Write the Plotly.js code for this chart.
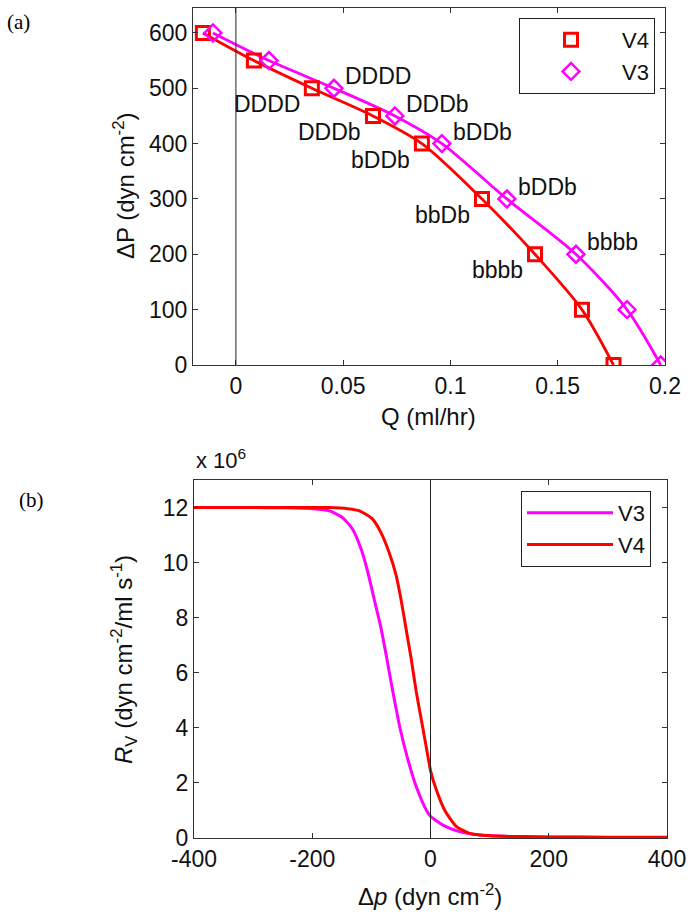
<!DOCTYPE html>
<html><head><meta charset="utf-8">
<script src="https://cdn.plot.ly/plotly-3.0.1.min.js"></script>
<style>html,body{margin:0;padding:0;background:#fff}#chart{width:694px;height:918px}</style>
</head><body><div id="chart"></div>
<script>
// ---- Panel (a): pressure-flow data ----
const qV4 = [-0.0154, 0.0084, 0.0354, 0.0639, 0.0867, 0.1147, 0.1394, 0.1613, 0.1760];
const pV4 = [600, 550, 500, 450, 400, 300, 200, 100, 0];
const qV3 = [-0.0107, 0.0154, 0.0457, 0.0741, 0.0960, 0.1263, 0.1585, 0.1823, 0.1980];
const pV3 = [600, 550, 500, 450, 400, 300, 200, 100, 0];
const labelP = [500, 450, 400, 300, 200];
const labelsV4 = ['DDDD', 'DDDb', 'bDDb', 'bbDb', 'bbbb'];
const labelsV3 = ['DDDD', 'DDDb', 'bDDb', 'bDDb', 'bbbb'];
const xTicksA = [0, 0.05, 0.1, 0.15, 0.2];
const xTickTextA = ['0', '0.05', '0.1', '0.15', '0.2'];
const yTicksA = [0, 100, 200, 300, 400, 500, 600];

// ---- Panel (b): resistance vs pressure (x 1e6) ----
const dpV3 = [-400, -300, -250, -200, -171, -149, -132, -117.5, -106, -95, -84, -75, -64, -52, -38, -24, -7, 0, 21, 49, 83, 117, 150, 200, 300, 400];
const rV3  = [12.0, 12.0, 11.99, 11.96, 11.88, 11.64, 11.22, 10.5, 9.65, 8.65, 7.65, 6.65, 5.35, 4.03, 2.83, 1.86, 1.01, 0.79, 0.47, 0.23, 0.11, 0.07, 0.05, 0.03, 0.02, 0.02];
const dpV4 = [-400, -300, -200, -171, -140, -120, -98, -84, -70, -58, -50, -41, -33, -24, -13, -3, 0, 10, 24, 44, 66, 100, 150, 200, 300, 400];
const rV4  = [12.0, 12.0, 12.0, 12.0, 11.96, 11.88, 11.58, 11.1, 10.37, 9.53, 8.68, 7.55, 6.55, 5.3, 4.0, 2.8, 2.45, 1.74, 1.01, 0.41, 0.17, 0.08, 0.05, 0.04, 0.03, 0.03];
const xTicksB = [-400, -200, 0, 200, 400];
const xTickTextB = ['-400', '-200', '0', '200', '400'];
const yTicksB = [0, 2, 4, 6, 8, 10, 12];

const RED = '#ff0000', MAG = '#ff00ff';
const FONT = 'Arial, "Liberation Sans", sans-serif';
const SERIF = '"Times New Roman", "Liberation Serif", serif';
const W = 694, H = 918;
const px = v => v / W, py = v => 1 - v / H;

const traces = [
  {x: qV4, y: pV4, xaxis: 'x', yaxis: 'y', mode: 'lines', line: {color: RED, width: 2.8, shape: 'spline', smoothing: 0.8}, showlegend: false, hoverinfo: 'skip'},
  {x: qV3, y: pV3, xaxis: 'x', yaxis: 'y', mode: 'lines', line: {color: MAG, width: 2.8, shape: 'spline', smoothing: 0.8}, showlegend: false, hoverinfo: 'skip'},
  {x: qV4, y: pV4, xaxis: 'x', yaxis: 'y', mode: 'markers', name: 'V4', legend: 'legend',
   marker: {symbol: 'square-open', size: 13, color: RED, line: {color: RED, width: 3}}},
  {x: qV3, y: pV3, xaxis: 'x', yaxis: 'y', mode: 'markers', name: 'V3', legend: 'legend',
   marker: {symbol: 'diamond-open', size: 13, color: MAG, line: {color: MAG, width: 2.5}}},
  {x: dpV3, y: rV3, xaxis: 'x2', yaxis: 'y2', mode: 'lines', name: 'V3', legend: 'legend2',
   line: {color: MAG, width: 3, shape: 'spline', smoothing: 0.6}},
  {x: dpV4, y: rV4, xaxis: 'x2', yaxis: 'y2', mode: 'lines', name: 'V4', legend: 'legend2',
   line: {color: RED, width: 3, shape: 'spline', smoothing: 0.6}}
];

const axBase = {
  showline: true, linecolor: '#333', linewidth: 1, mirror: 'ticks', ticks: 'inside', ticklen: 5,
  tickcolor: '#333', tickwidth: 1, showgrid: false, zeroline: false,
  tickfont: {family: FONT, size: 23, color: '#111'}
};

const annotations = [];
labelP.forEach((p, i) => {
  const k4 = pV4.indexOf(p), k3 = pV3.indexOf(p);
  annotations.push({x: qV4[k4], y: p, xref: 'x', yref: 'y', text: labelsV4[i], showarrow: false,
    xanchor: 'right', yanchor: 'middle', xshift: -10, yshift: -16, font: {family: FONT, size: 23, color: '#111'}});
  annotations.push({x: qV3[k3], y: p, xref: 'x', yref: 'y', text: labelsV3[i], showarrow: false,
    xanchor: 'left', yanchor: 'middle', xshift: 9, yshift: 12, font: {family: FONT, size: 23, color: '#111'}});
});
const t = (text, x, y, opts) => Object.assign({text, x: px(x), y: py(y), xref: 'paper', yref: 'paper', showarrow: false,
  xanchor: 'center', yanchor: 'middle', font: {family: FONT, size: 24, color: '#111'}}, opts || {});
annotations.push(t('Q (ml/hr)', 428, 416));
annotations.push(t('ΔP (dyn cm<sup>-2</sup>)', 124, 186, {textangle: -90}));
annotations.push(t('Δ<i>p</i> (dyn cm<sup>-2</sup>)', 430, 895));
annotations.push(t('<i>R</i><sub>V</sub> (dyn cm<sup>-2</sup>/ml s<sup>-1</sup>)', 124, 660, {textangle: -90}));
annotations.push(t('x 10<sup>6</sup>', 194, 459, {xanchor: 'left', font: {family: FONT, size: 22, color: '#111'}}));
annotations.push(t('(a)', 5, 22, {xanchor: 'left', font: {family: SERIF, size: 21, color: '#000'}}));
annotations.push(t('(b)', 17, 500, {xanchor: 'left', font: {family: SERIF, size: 21, color: '#000'}}));

const legBase = {xanchor: 'left', yanchor: 'top', bgcolor: '#fff', bordercolor: '#222', borderwidth: 1,
  font: {family: FONT, size: 22, color: '#111'}, traceorder: 'normal', tracegroupgap: 0};

const layout = {
  width: W, height: H, margin: {l: 0, r: 0, t: 0, b: 0}, paper_bgcolor: '#fff', plot_bgcolor: '#fff',
  font: {family: FONT, size: 20, color: '#111'},
  xaxis: Object.assign({}, axBase, {domain: [px(193), px(665)], range: [-0.02, 0.2], tickvals: xTicksA, ticktext: xTickTextA, anchor: 'y'}),
  yaxis: Object.assign({}, axBase, {domain: [py(365), py(8)], range: [0, 645], tickvals: yTicksA, anchor: 'x'}),
  xaxis2: Object.assign({}, axBase, {domain: [px(194), px(667)], range: [-400, 400], tickvals: xTicksB, ticktext: xTickTextB, anchor: 'y2'}),
  yaxis2: Object.assign({}, axBase, {domain: [py(838), py(480)], range: [0, 13], tickvals: yTicksB, anchor: 'x2'}),
  legend: Object.assign({}, legBase, {x: px(519), y: py(18), itemwidth: 92}),
  legend2: Object.assign({}, legBase, {x: px(521), y: py(491), itemwidth: 86}),
  shapes: [
    {type: 'line', xref: 'x', yref: 'y domain', x0: 0, x1: 0, y0: 0, y1: 1, line: {color: '#222', width: 1}},
    {type: 'line', xref: 'x2', yref: 'y2 domain', x0: 0, x1: 0, y0: 0, y1: 1, line: {color: '#222', width: 1}}
  ],
  annotations: annotations,
  showlegend: true
};

Plotly.newPlot('chart', traces, layout, {staticPlot: true, displayModeBar: false});
</script>
</body></html>
